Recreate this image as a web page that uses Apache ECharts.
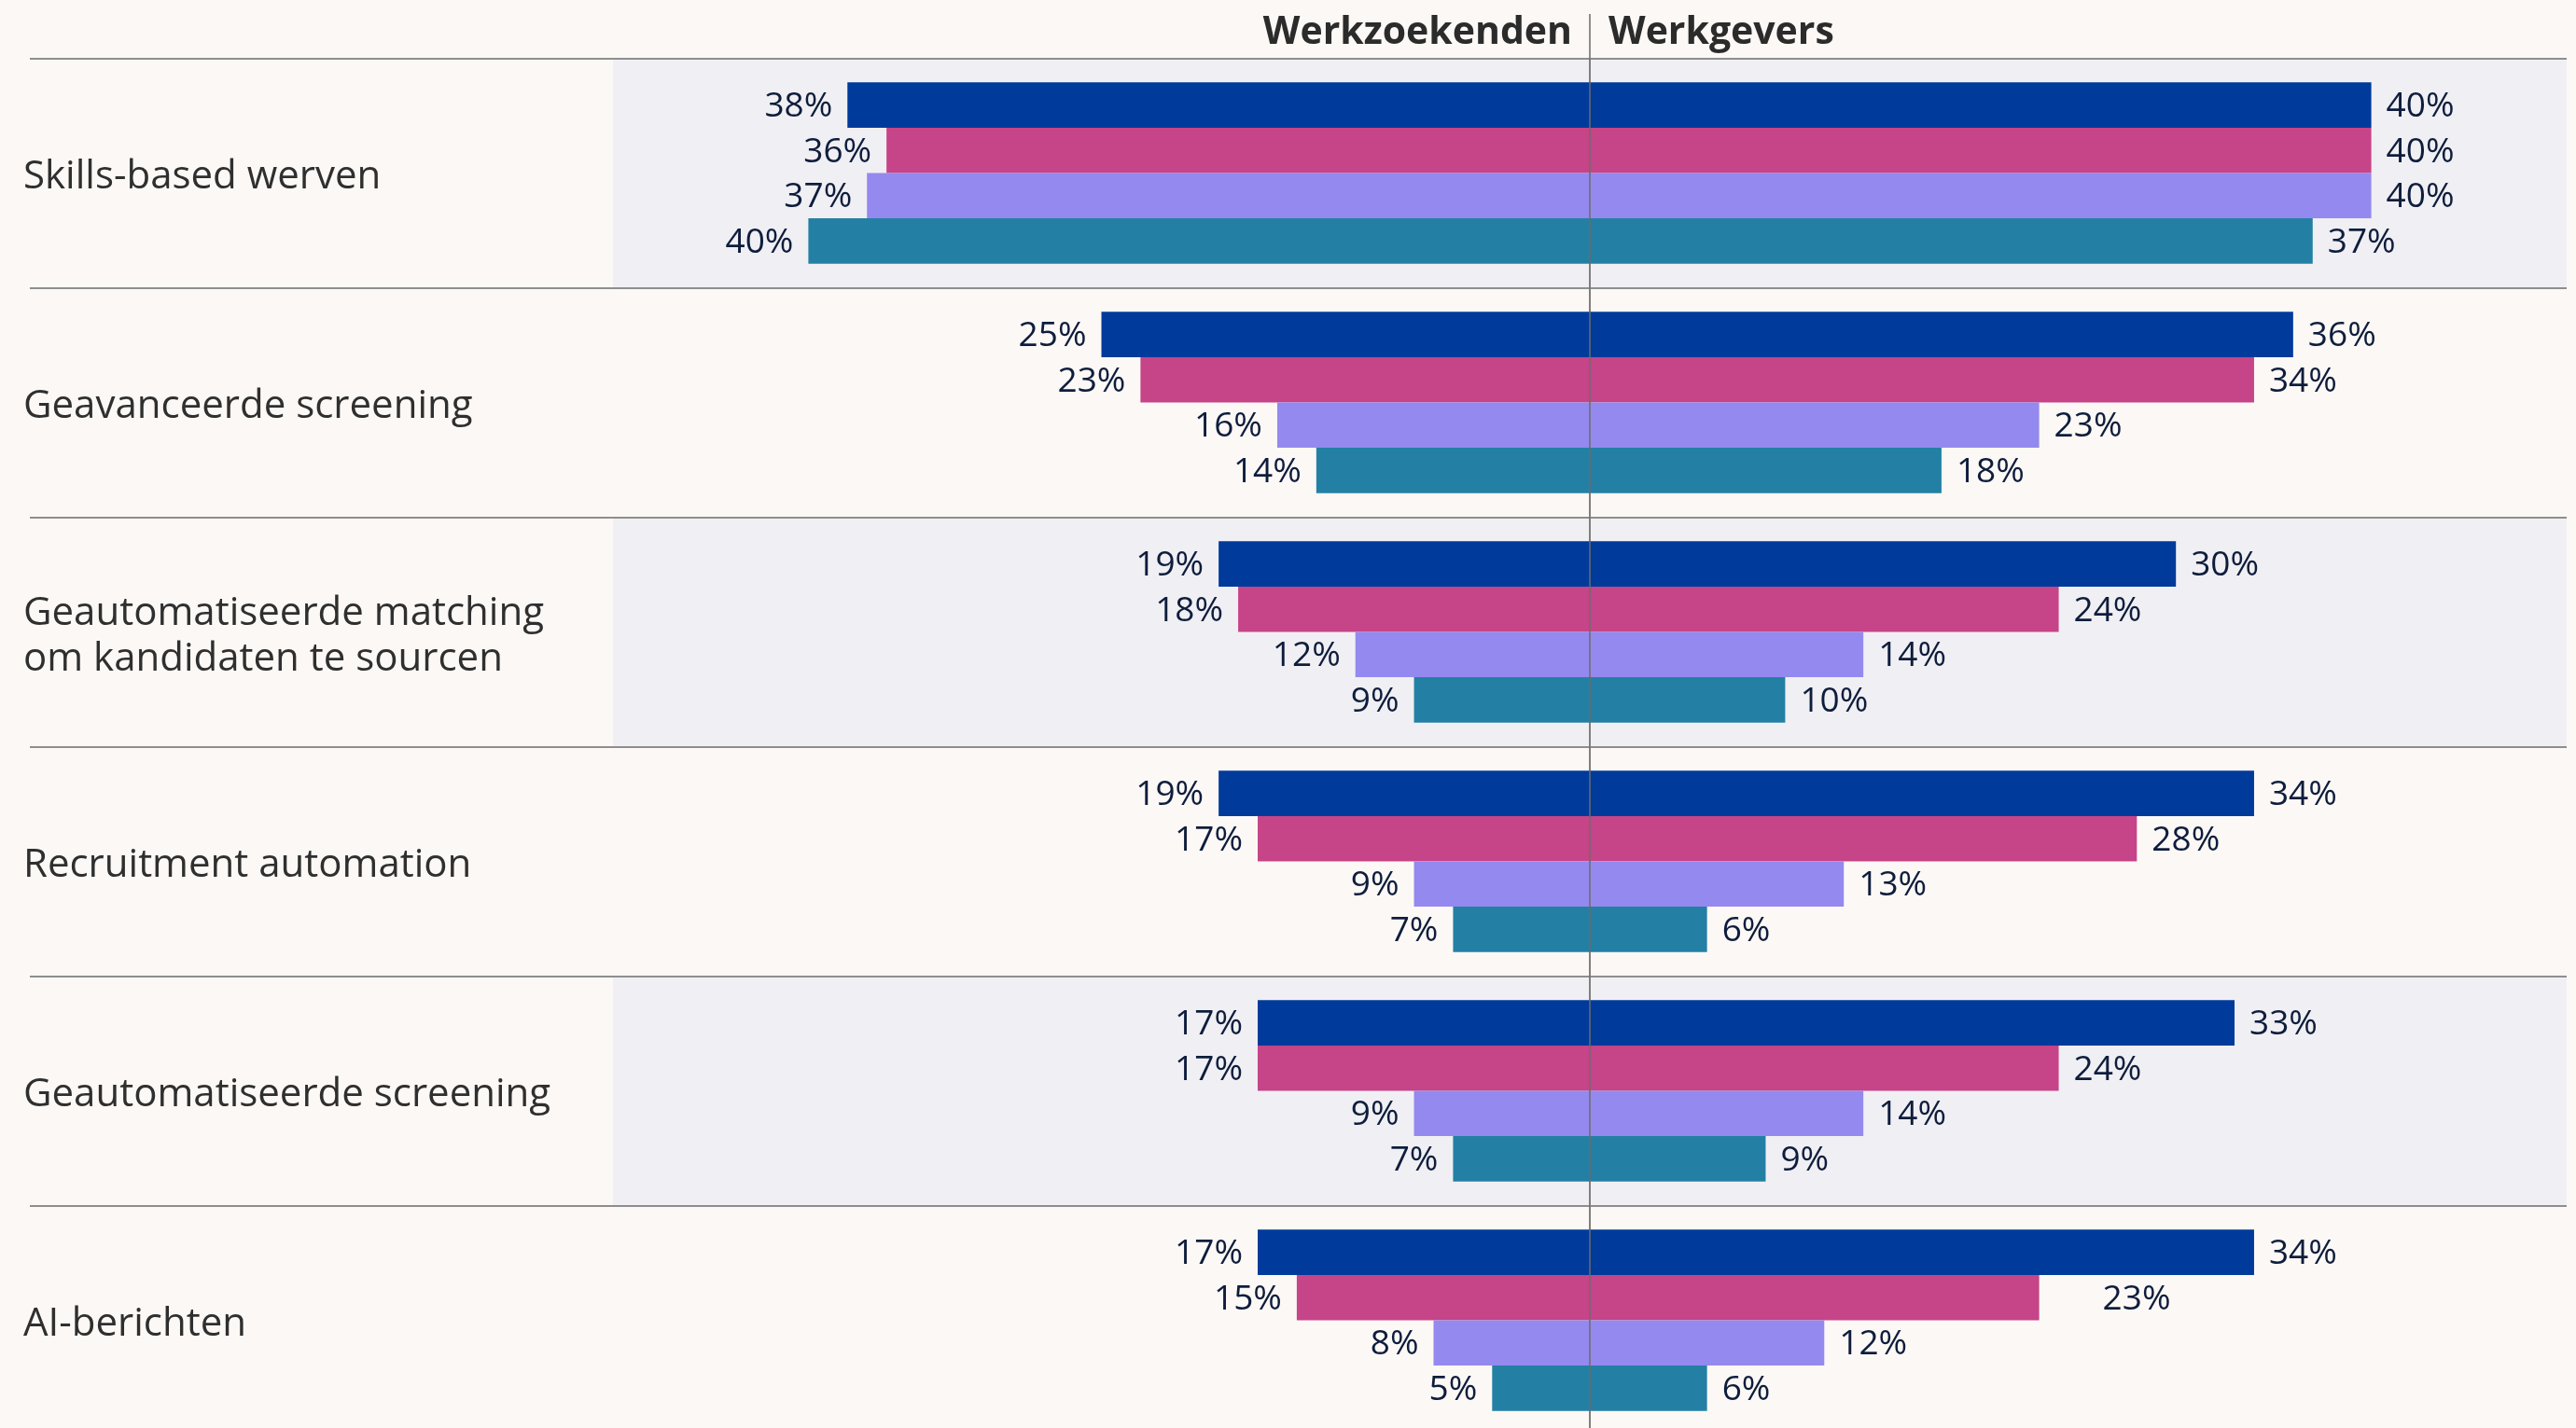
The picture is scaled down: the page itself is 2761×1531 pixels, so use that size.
<!DOCTYPE html>
<html>
<head>
<meta charset="utf-8">
<title>Werkzoekenden vs Werkgevers</title>
<script src="https://cdn.jsdelivr.net/npm/echarts@6/dist/echarts.min.js"></script>
<style>
  html, body { margin: 0; padding: 0; background: #fcf8f5; }
  #chart { width: 2761px; height: 1531px; }
</style>
</head>
<body>
<div id="chart"></div>
<script>
  const categories = [
    'Skills-based werven',
    'Geavanceerde screening',
    'Geautomatiseerde matching\nom kandidaten te sourcen',
    'Recruitment automation',
    'Geautomatiseerde screening',
    'AI-berichten'
  ];
  // werkzoekenden (links), een array per kleur
  const seekersA = [38, 25, 19, 19, 17, 17];
  const seekersB = [36, 23, 18, 17, 17, 15];
  const seekersC = [37, 16, 12, 9, 9, 8];
  const seekersD = [40, 14, 9, 7, 7, 5];
  // werkgevers (rechts)
  const employersA = [40, 36, 30, 34, 33, 34];
  const employersB = [40, 34, 24, 28, 24, 23];
  const employersC = [40, 23, 14, 13, 14, 12];
  const employersD = [37, 18, 10, 6, 9, 6];
  const headers = ['Werkzoekenden', 'Werkgevers'];

  const colors = ['#003a9b', '#c64488', '#9489ee', '#2380a4'];
  const seekers = [seekersA, seekersB, seekersC, seekersD];
  const employers = [employersA, employersB, employersC, employersD];

  const font = 'Open Sans';
  const lineGray = '#8e8e8e';

  const labelStyle = {
    show: true,
    distance: 16,
    fontFamily: font,
    fontSize: 37,
    color: '#0e1d3c',
    offset: [0, 2],
    formatter: p => Math.abs(p.value) + '%'
  };

  const series = [];
  colors.forEach((c, i) => {
    series.push({
      type: 'bar',
      xAxisIndex: 1,
      yAxisIndex: 1,
      stack: 's' + i,
      barGap: '0%',
      barCategoryGap: '21%',
      itemStyle: { color: c },
      label: Object.assign({ position: 'left' }, labelStyle),
      data: seekers[i].map(v => -v)
    });
    series.push({
      type: 'bar',
      xAxisIndex: 1,
      yAxisIndex: 1,
      stack: 's' + i,
      barGap: '0%',
      barCategoryGap: '21%',
      itemStyle: { color: c },
      label: Object.assign({ position: 'right' }, labelStyle),
      // het label van 23% bij AI-berichten staat in het origineel wat verder naar rechts
      data: employers[i].map((v, j) =>
        (i === 1 && j === 5) ? { value: v, label: { offset: [52, 2] } } : v)
    });
  });

  const myChart = echarts.init(document.getElementById('chart'));
  myChart.setOption({
    backgroundColor: '#fcf8f5',
    animation: false,
    textStyle: { fontFamily: font },
    grid: [
      // lijnen in de labelkolom
      { left: 32, width: 625, top: 62.5, height: 1476, outerBoundsMode: 'none' },
      // staven
      { left: 657, right: 10, top: 62.5, height: 1476, outerBoundsMode: 'none' },
      // categorielabels, iets omlaag geschoven
      { left: 32, width: 625, top: 67.5, height: 1476, outerBoundsMode: 'none' }
    ],
    xAxis: [
      { gridIndex: 0, type: 'value', show: false, min: 0, max: 1 },
      { gridIndex: 1, type: 'value', show: false, min: -50, max: 50 },
      { gridIndex: 2, type: 'value', show: false, min: 0, max: 1 }
    ],
    yAxis: [
      {
        gridIndex: 0,
        type: 'category',
        inverse: true,
        data: categories,
        axisLine: { show: false },
        axisTick: { show: false },
        axisLabel: { show: false },
        splitLine: { show: true, lineStyle: { color: lineGray, width: 2 } }
      },
      {
        gridIndex: 1,
        type: 'category',
        inverse: true,
        data: categories,
        axisLine: { show: true, lineStyle: { color: '#a9a9a9', width: 1.5 } },
        axisTick: { show: false },
        axisLabel: { show: false },
        splitLine: { show: true, lineStyle: { color: lineGray, width: 2 } },
        splitArea: { show: true, areaStyle: { color: ['#f0eff3', 'rgba(0,0,0,0)'] } }
      },
      {
        gridIndex: 2,
        type: 'category',
        inverse: true,
        data: categories,
        axisLine: { show: false },
        axisTick: { show: false },
        splitLine: { show: false },
        axisLabel: {
          inside: true,
          margin: -7,
          align: 'left',
          fontFamily: font,
          fontSize: 42,
          lineHeight: 49,
          color: '#2f2f2f'
        }
      }
    ],
    series: series
  });

  // middenlijn en koppen vanaf de schaal van de x-as
  const cx = myChart.convertToPixel({ xAxisIndex: 1 }, 0);
  myChart.setOption({
    graphic: [
      {
        type: 'line',
        z: 100,
        shape: { x1: cx, y1: 15, x2: cx, y2: 1531 },
        style: { stroke: '#6b6b6b', lineWidth: 1.5 }
      },
      {
        type: 'text',
        x: cx - 19,
        y: 35,
        style: {
          text: headers[0], align: 'right', verticalAlign: 'middle',
          fontFamily: font, fontWeight: 'bold', fontSize: 41, fill: '#2b2b2b'
        }
      },
      {
        type: 'text',
        x: cx + 20,
        y: 35,
        style: {
          text: headers[1], align: 'left', verticalAlign: 'middle',
          fontFamily: font, fontWeight: 'bold', fontSize: 41, fill: '#2b2b2b'
        }
      }
    ]
  });
</script>
</body>
</html>
